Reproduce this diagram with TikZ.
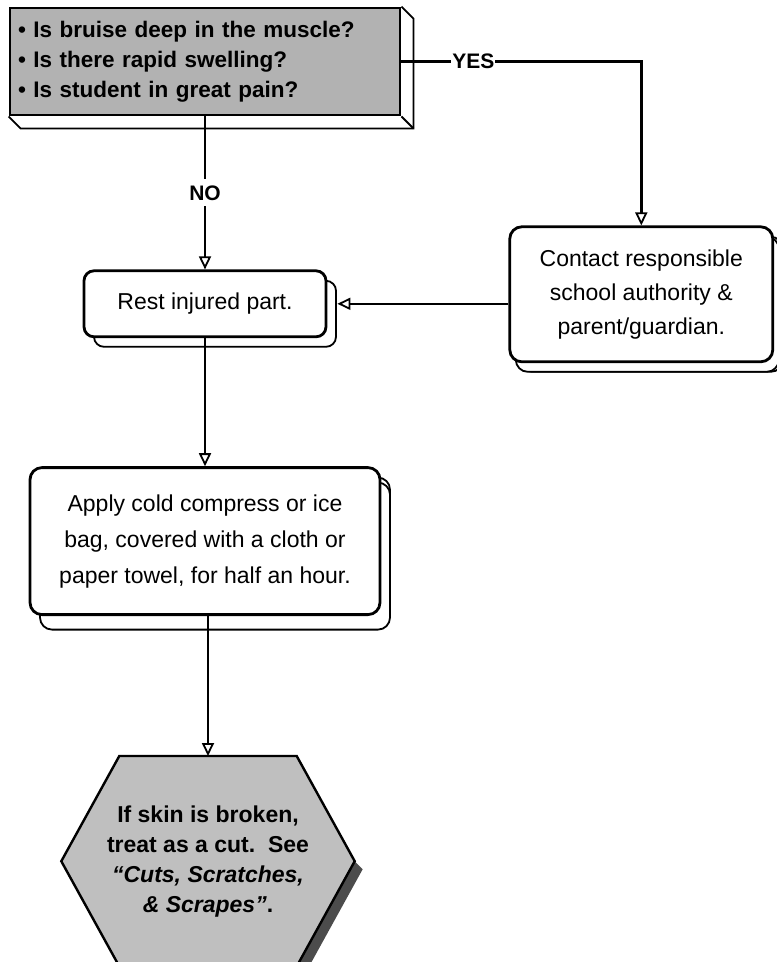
\documentclass[tikz,border=0pt]{standalone}
\usepackage{fontspec}
\setmainfont{Liberation Sans}
\usetikzlibrary{positioning,arrows.meta,shadows,backgrounds}

\tikzset{
  flow/.style={line width=2.6pt, -{Triangle[open, length=13pt, width=12pt, line width=1.8pt]}},
  stepbox/.style={draw, line width=2.8pt, rounded corners=12pt, fill=white, align=center,
    font=\fontsize{23}{34}\selectfont,
    copy shadow={shadow xshift=10pt, shadow yshift=-10pt, fill=white, draw=black, line width=1.8pt}},
  askbox/.style={draw, line width=2.8pt, fill=black!30, align=left, text width=374pt,
    inner xsep=8pt, minimum width=390pt, minimum height=107pt,
    font=\bfseries\fontsize{22.5}{30}\selectfont},
  endbox/.style={minimum width=293pt, minimum height=210pt, align=center,
    font=\bfseries\fontsize{23}{30}\selectfont},
  answer/.style={fill=white, font=\bfseries\fontsize{21}{24}\selectfont}
}

\begin{document}
\begin{tikzpicture}[x=1pt, y=-1pt]
\useasboundingbox (0,0) rectangle (777,962);

%% QUESTION
\node[askbox] at (205,61.5)(question){\textbullet\ Is bruise deep in the muscle?\\
\textbullet\ Is there rapid swelling?\\
\textbullet\ Is student in great pain?};
\draw[line width=1.8pt] (question.north east) -- ([shift={(12,12)}]question.north east)
  |- ([shift={(12,12)}]question.south west) -- (question.south west);
\draw[line width=1.8pt] (question.south east) -- ([shift={(12,12)}]question.south east);

%% STEPS
\node[stepbox, below=153pt of question, minimum width=242pt, minimum height=66pt, rounded corners=10pt](rest){Rest injured part.};
\node[stepbox, right=181pt of rest, yshift=9.5pt, minimum width=263pt, minimum height=135pt,
  copy shadow={shadow xshift=6pt, shadow yshift=-10pt, fill=white, draw=black, line width=1.8pt}](contact){Contact responsible\\ school authority \&\\ parent/guardian.};
\node[stepbox, below=128pt of rest, minimum width=350pt, minimum height=147pt,
  font=\fontsize{23}{36}\selectfont,
  copy shadow={shadow xshift=10pt, shadow yshift=-15pt, fill=white, draw=black, line width=1.8pt}](apply){Apply cold compress or ice\\ bag, covered with a cloth or\\ paper towel, for half an hour.};

%% END
\node[endbox, below=140pt of apply, xshift=3pt](skin){If skin is broken,\\ treat as a cut.\ \ See\\ \textit{``Cuts, Scratches,}\\ \textit{\& Scrapes''}.};
\begin{scope}[on background layer]
\fill[black!70] (skin.east) -- ([shift={(8,8)}]skin.east) -- ([shift={(-50,8)}]skin.south east)
  -- ([xshift=-58pt]skin.south east) -- cycle;
\draw[line width=2.4pt, fill=black!25] ([xshift=58pt]skin.north west) -- ([xshift=-58pt]skin.north east)
  -- (skin.east) -- ([xshift=-58pt]skin.south east) -- ([xshift=58pt]skin.south west)
  -- (skin.west) -- cycle;
\end{scope}

%% CONNECTORS
\draw[flow] (question.east) -| node[answer, pos=0.15, inner xsep=1pt]{YES} (contact.north);
\draw[flow] (question.south -| rest.north) -- node[answer, inner ysep=6pt]{NO} (rest.north);
\draw[flow] (contact.west |- rest.east) -- ([xshift=10pt]rest.east);
\draw[flow] (rest.south) -- (apply.north);
\draw[flow] (apply.south -| skin.north) -- (skin.north);

\end{tikzpicture}
\end{document}
